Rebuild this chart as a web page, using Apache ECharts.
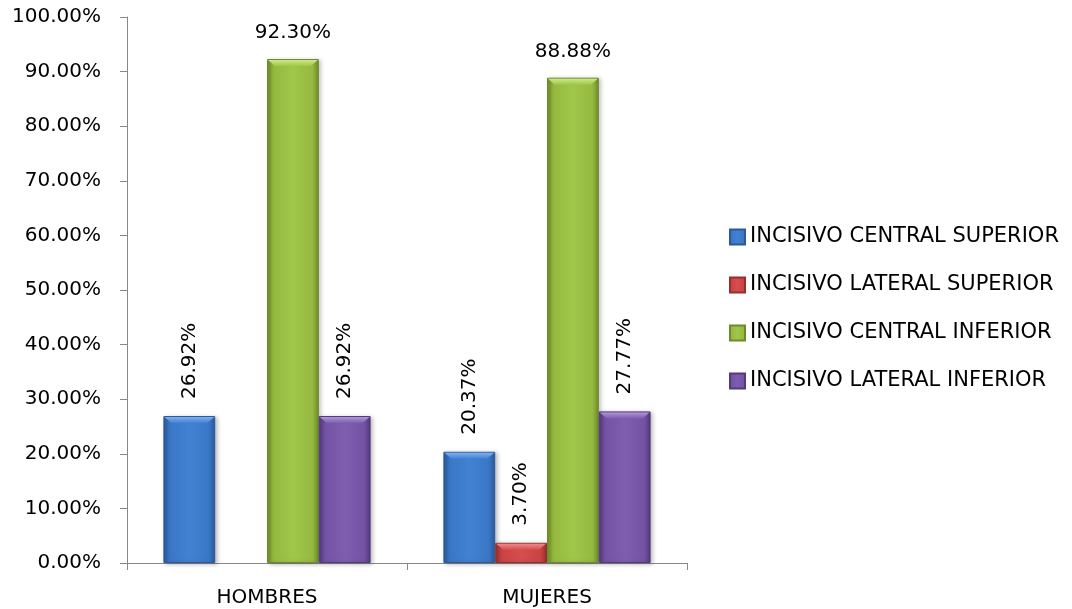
<!DOCTYPE html>
<html>
<head>
<meta charset="utf-8">
<title>Incisivos por sexo</title>
<script src="https://cdn.jsdelivr.net/npm/echarts@6/dist/echarts.min.js"></script>
<style>
  html, body { margin: 0; padding: 0; background: #fff; }
  #chart { width: 1072px; height: 609px; }
</style>
</head>
<body>
<div id="chart"></div>
<script>
// Categories on the x axis
const categories = ['HOMBRES', 'MUJERES'];

// Series names (legend order)
const seriesNames = [
  'INCISIVO CENTRAL SUPERIOR',
  'INCISIVO LATERAL SUPERIOR',
  'INCISIVO CENTRAL INFERIOR',
  'INCISIVO LATERAL INFERIOR'
];

// Percent values per series, one per category ('-' = no bar)
const centralSuperior = [26.92, 20.37];
const lateralSuperior = ['-', 3.70];
const centralInferior = [92.30, 88.88];
const lateralInferior = [26.92, 27.77];

// Y axis range and step (percent)
const yMin = 0;
const yMax = 100;
const yStep = 10;

const FONT = 'DejaVu Sans';
const CATEGORY_GAP = 0.26;

// Bevel-like fill: darker edges, lighter body
function barFill(edge, mid, light) {
  return {
    type: 'linear', x: 0, y: 0, x2: 1, y2: 0,
    colorStops: [
      { offset: 0, color: edge },
      { offset: 0.12, color: mid },
      { offset: 0.5, color: light },
      { offset: 0.88, color: mid },
      { offset: 1, color: edge }
    ]
  };
}

const palette = [
  { edge: '#2a5a9c', mid: '#3a76c6', light: '#4282d2', top: '#7fb0ee', solid: '#3a76c6' },
  { edge: '#962e2e', mid: '#c94343', light: '#d64e4e', top: '#ee8a8a', solid: '#c94343' },
  { edge: '#6e8a2c', mid: '#94b93e', light: '#a0c64a', top: '#cdea86', solid: '#94b93e' },
  { edge: '#523a7c', mid: '#7452a4', light: '#7e5eae', top: '#b096d8', solid: '#7452a4' }
];

const seriesData = [centralSuperior, lateralSuperior, centralInferior, lateralInferior];

const pctLabel = p => p.value.toFixed(2) + '%';

const barSeries = seriesData.map((data, i) => {
  const upright = (i === 2);
  return {
    name: seriesNames[i],
    type: 'bar',
    data: data,
    barGap: '0%',
    barCategoryGap: (CATEGORY_GAP * 100) + '%',
    itemStyle: {
      color: barFill(palette[i].edge, palette[i].mid, palette[i].light),
      borderColor: palette[i].edge,
      borderWidth: 1,
      shadowColor: 'rgba(0,0,0,0.25)',
      shadowBlur: 4,
      shadowOffsetX: 2,
      shadowOffsetY: 1
    },
    label: upright ? {
      show: true,
      position: 'top',
      distance: 16,
      formatter: pctLabel,
      fontFamily: FONT,
      fontSize: 20,
      color: '#000'
    } : {
      show: true,
      position: 'top',
      rotate: 90,
      align: 'left',
      verticalAlign: 'middle',
      distance: 17,
      formatter: pctLabel,
      fontFamily: FONT,
      fontSize: 20,
      color: '#000'
    }
  };
});

// Light bevelled cap on the top of every bar, placed in the same slot as its bar
const capSeries = seriesData.map((data, i) => ({
  name: seriesNames[i] + ' cap',
  type: 'custom',
  silent: true,
  z: 3,
  data: data.map((v, c) => [c, v]),
  renderItem: (params, api) => {
    const val = api.value(1);
    if (isNaN(val)) return null;
    const top = api.coord([api.value(0), val]);
    const base = api.coord([api.value(0), yMin]);
    const band = api.size([1, 0])[0];
    const barW = band * (1 - CATEGORY_GAP) / seriesData.length;
    const left = top[0] - band * (1 - CATEGORY_GAP) / 2 + i * barW;
    const h = base[1] - top[1];
    const bev = Math.min(7, h / 2);
    return {
      type: 'polygon',
      shape: {
        points: [
          [left + 1, top[1] + 1],
          [left + barW - 1, top[1] + 1],
          [left + barW - 1 - bev, top[1] + bev],
          [left + 1 + bev, top[1] + bev]
        ]
      },
      style: {
        fill: {
          type: 'linear', x: 0, y: 0, x2: 0, y2: 1,
          colorStops: [
            { offset: 0, color: palette[i].top },
            { offset: 1, color: palette[i].light }
          ]
        }
      }
    };
  }
}));

const chart = echarts.init(document.getElementById('chart'), null, { renderer: 'canvas' });

chart.setOption({
  animation: false,
  backgroundColor: '#fff',
  textStyle: { fontFamily: FONT },
  color: palette.map(p => p.solid),
  grid: { left: 127, right: 385, top: 17, bottom: 46, containLabel: false },
  legend: {
    orient: 'vertical',
    left: 724,
    top: 221,
    itemWidth: 15,
    itemHeight: 15,
    itemGap: 26,
    icon: 'rect',
    textStyle: { fontFamily: FONT, fontSize: 21, color: '#000', lineHeight: 22 },
    data: seriesNames
  },
  xAxis: {
    type: 'category',
    data: categories,
    axisLine: { lineStyle: { color: '#888', width: 1 } },
    axisTick: { show: true, length: 7, lineStyle: { color: '#888' } },
    axisLabel: { margin: 25, fontFamily: FONT, fontSize: 20, color: '#000' }
  },
  yAxis: {
    type: 'value',
    min: yMin,
    max: yMax,
    interval: yStep,
    splitLine: { show: false },
    axisLine: { show: true, lineStyle: { color: '#888', width: 1 } },
    axisTick: { show: true, length: 7, lineStyle: { color: '#888' } },
    axisLabel: {
      margin: 26,
      fontFamily: FONT,
      fontSize: 20,
      color: '#000',
      formatter: v => v.toFixed(2) + '%'
    }
  },
  series: barSeries.concat(capSeries)
});
</script>
</body>
</html>
